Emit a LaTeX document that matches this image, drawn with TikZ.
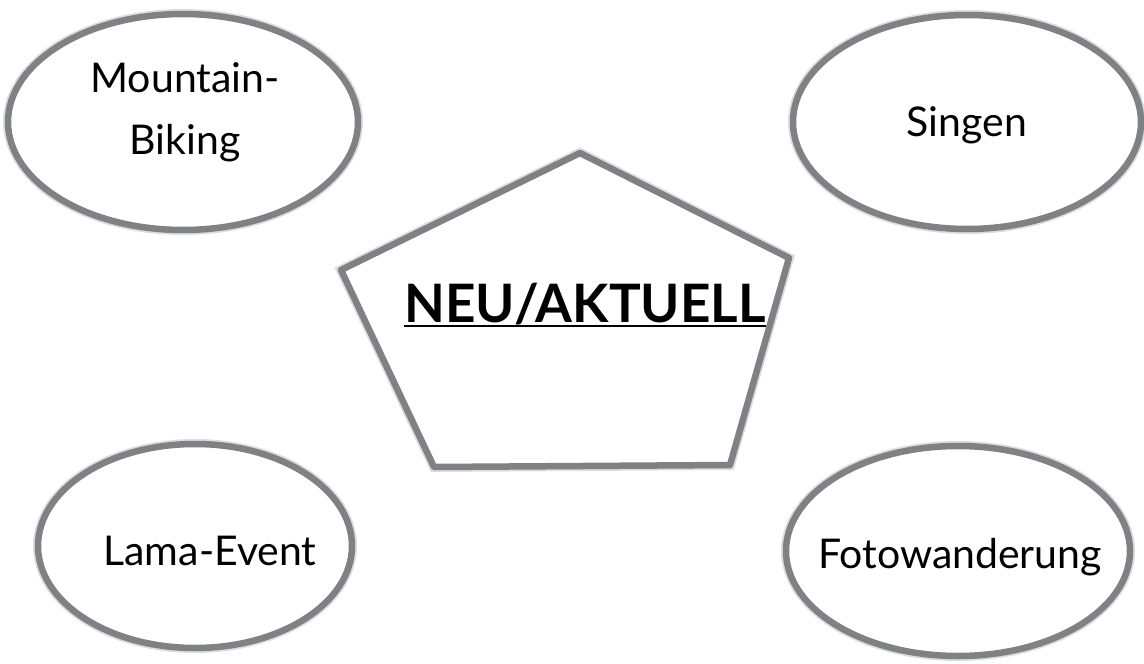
\documentclass[tikz,border=0pt]{standalone}
\usepackage{fontspec}
\setmainfont{Lato}
\usetikzlibrary{shapes.geometric}
\definecolor{brushgray}{RGB}{128,129,132}
\definecolor{brushlight}{RGB}{178,179,181}
\tikzset{
  brush/.style={draw=brushgray, line width=6.5pt, line join=round,
    preaction={draw=brushlight, line width=10pt, opacity=0.45}},
  bubble/.style={brush, ellipse, inner sep=0pt, fill=white},
  label/.style={inner sep=0pt, text=black, font=\fontsize{41}{62}\selectfont}
}
\begin{document}
\begin{tikzpicture}[x=1pt, y=-1pt]
  \useasboundingbox (0,0) rectangle (1144,664);

  % four activity bubbles
  \node[bubble, minimum width=350pt, minimum height=216pt] (mtb) at (183,122) {};
  \node[bubble, minimum width=348pt, minimum height=214pt] (sing) at (967,122) {};
  \node[bubble, minimum width=314pt, minimum height=204pt] (lama) at (195,546) {};
  \node[bubble, minimum width=344pt, minimum height=210pt] (foto) at (958,551) {};

  \node[label, align=center] (mtbtext) at (185,112) {Mountain-\\Biking};
  \node[label, anchor=base] (singtext) at (967,136) {Singen};
  \node[label, anchor=base] (lamatext) at (210,565) {Lama-Event};
  \node[label, anchor=base] (fototext) at (960,568) {Fotowanderung};

  % central pentagon
  \coordinate (ptop) at (580,153);
  \coordinate (pright) at (789,258);
  \coordinate (pbr) at (730,465);
  \coordinate (pbl) at (434,467);
  \coordinate (pleft) at (341,270);
  \draw[brush, fill=white] (ptop) -- (pright) -- (pbr) -- (pbl) -- (pleft) -- cycle;

  \node[label, font=\fontsize{53}{60}\bfseries\selectfont, anchor=base] (neu) at (585,322) {NEU/AKTUELL};
  \draw[line width=2.6pt] ([yshift=-4pt]neu.base west) -- ([yshift=-4pt]neu.base east);
\end{tikzpicture}
\end{document}
